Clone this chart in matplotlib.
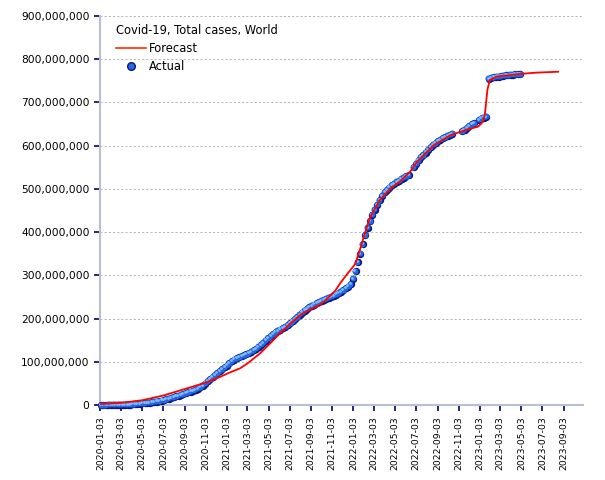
import matplotlib
matplotlib.use("Agg")
import matplotlib.pyplot as plt
import matplotlib.dates as mdates
import matplotlib.transforms as mtransforms
from matplotlib.lines import Line2D
from matplotlib.ticker import FuncFormatter
import numpy as np
import pandas as pd

# Actual total cases (millions), one value per week starting 2020-01-05, None = not reported
actual_2020 = [0.0, 0.0, 0.0, 0.002, 0.015, 0.04, 0.07, 0.079, 0.088, 0.11, 0.17, 0.34, 0.72,
               1.27, 1.85, 2.4, 2.99, 3.5, 4.1, 4.8, 5.5, 6.2, 7.0, 7.9, 9.0, 10.2,
               11.5, 13.0, 14.6, 16.3, 18.0, 19.8, 21.6, 23.4, 25.3, 27.1, 29.1, 31.1, 33.2,
               35.4, 37.9, 41.0, 44.5, 49.6, 54.4, 59.4, 64.1, 68.6, 73.2, 78.0, 82.7, 86.9]
actual_2021 = [91.2, 96.6, 101.2, 105.2, 108.0, 110.1, 112.6, 114.6, 117.1, 119.8, 122.8, 126.3, 130.4,
               134.6, 139.1, 143.8, 149.2, 154.3, 159.3, 163.7, 167.8, 171.4, 174.5, 177.5, 180.9, 184.5,
               189.2, 193.8, 198.4, 203.3, 208.4, 213.8, 218.5, 222.6, 226.6, 229.7, 232.5, 235.4, 238.2,
               240.7, 243.2, 245.3, 247.8, 250.3, 252.8, 255.6, 258.7, 262.0, 265.6, 269.9, 274.1, 279.4]
actual_2022 = [292, 310, 330, 350, 372, 393, 410, 425, 440, 452, 463, 474, 484,
               492, 498, 503, 508, 512, 516, 519, 523, 526, 529, 532, None, 550,
               558, 566, 573, 578, 584, 590, 596, 602, 606, 610, 614, 617, 620,
               623, 625, 627, None, None, None, 633, 637, 641, 645, 649, 652, None]
actual_2023 = [660, 663, 665, 667, 755, 757, 758, 759, 760, 761, 761.8, 762.5, 763.2,
               763.8, 764.3, 764.8, 765.2, 765.6]
actual_start = "2020-01-05"

# Forecast curve (millions)
forecast_dates = ["2020-01-03", "2020-03-03", "2020-05-03", "2020-07-03", "2020-09-03", "2020-11-03",
                  "2020-12-14", "2021-01-10", "2021-02-10", "2021-03-06", "2021-04-09", "2021-05-08",
                  "2021-06-05", "2021-07-04", "2021-08-02", "2021-08-31", "2021-09-29", "2021-10-22",
                  "2021-11-12", "2021-11-26", "2021-12-16", "2022-01-08", "2022-01-22", "2022-02-06",
                  "2022-02-20", "2022-03-21", "2022-04-19", "2022-05-18", "2022-06-16", "2022-07-05",
                  "2022-08-21", "2022-10-09", "2022-11-26", "2022-12-29", "2023-01-12", "2023-01-18",
                  "2023-01-25", "2023-02-01", "2023-02-21", "2023-04-29", "2023-06-16", "2023-08-17"]
forecast_values = [2, 5, 11, 22, 37, 52, 65, 75, 85, 98, 120, 143, 166, 188, 208, 221, 232, 248,
                   265, 282, 303, 326, 360, 400, 434, 475, 500, 518, 540, 562, 600, 624, 637, 644,
                   655, 675, 730, 752, 760, 766, 769, 771]

actual = actual_2020 + actual_2021 + actual_2022 + actual_2023
actual_dates = pd.date_range(actual_start, periods=len(actual), freq="7D")
actual_vals = np.array([np.nan if v is None else v * 1e6 for v in actual])
fc_dates = pd.to_datetime(forecast_dates)
fc_vals = np.array(forecast_values) * 1e6

plt.rcParams['font.family'] = ['DejaVu Sans']
fig = plt.figure(figsize=(6.05, 4.80), dpi=100)
ax = fig.add_axes([100 / 605, 1 - 405 / 480, 483 / 605, 389 / 480])


def shifted(dx, dy):
    # offset in pixels
    return ax.transData + mtransforms.ScaledTranslation(dx * 0.72 / 72, dy * 0.72 / 72, fig.dpi_scale_trans)


# sphere-like markers: dark base, blue body, light highlight
ax.plot(actual_dates, actual_vals, 'o', ms=5.3, color='#0a1680', mec='none', clip_on=False, zorder=3)
ax.plot(actual_dates, actual_vals, 'o', ms=4.3, color='#2568e0', mec='none', clip_on=False, zorder=4,
        transform=shifted(-0.5, 0.5))
ax.plot(actual_dates, actual_vals, 'o', ms=2.0, color='#80beff', mec='none', clip_on=False, zorder=5,
        transform=shifted(-1.1, 1.1))

ax.plot(fc_dates, fc_vals, color='#ff0000', lw=1.3, zorder=6)

ax.set_xlim(pd.Timestamp("2020-01-02"), pd.Timestamp("2023-10-28"))
ax.set_ylim(0, 900e6)
ax.set_yticks(np.arange(0, 900e6 + 1, 100e6))
ax.yaxis.set_major_formatter(FuncFormatter(lambda v, p: f"{v:,.0f}"))
ax.xaxis.set_major_locator(mdates.MonthLocator(bymonth=(1, 3, 5, 7, 9, 11), bymonthday=3))
ax.xaxis.set_major_formatter(mdates.DateFormatter('%Y-%m-%d'))

ax.yaxis.grid(True, color='#b8b8b8', linestyle=(0, (2, 2)), lw=0.75)
ax.set_axisbelow(True)
for s in ['top', 'right']:
    ax.spines[s].set_visible(False)
for s in ['left', 'bottom']:
    ax.spines[s].set_color('#b8bfd6')
    ax.spines[s].set_linewidth(1.5)

ax.tick_params(axis='y', length=4, width=1.2, color='#000066', labelsize=7.7, pad=3.5)
ax.tick_params(axis='x', length=4, width=1.2, color='#000066', labelsize=6.7, pad=4, labelrotation=90)

handles = [Line2D([], [], color='#ff2a00', lw=1.2),
           Line2D([], [], marker='o', ls='none', ms=5.5, markerfacecolor='#2568e0', markeredgecolor='#0a1680')]
leg = ax.legend(handles, ['Forecast', 'Actual'], title='Covid-19, Total cases, World',
                loc='upper left', bbox_to_anchor=(0.021, 0.995), frameon=False,
                fontsize=8.3, title_fontsize=8.3, alignment='left', borderpad=0,
                handlelength=2.6, handletextpad=0.3, labelspacing=0.45)

fig.savefig('out.png', dpi=100)
